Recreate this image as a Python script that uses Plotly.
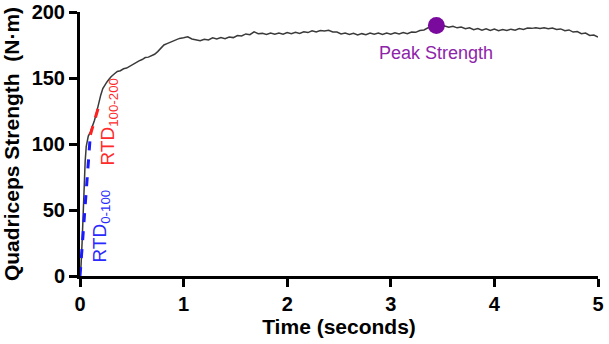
import plotly.graph_objects as go

# Time (s) and quadriceps torque (N·m)
time_s = [
    0.00, 0.01, 0.02, 0.03, 0.04, 0.05, 0.06, 0.07, 0.08, 0.10, 0.12, 0.14, 0.16, 0.18,
    0.20, 0.22, 0.24, 0.26, 0.28, 0.30, 0.33, 0.36, 0.39, 0.42, 0.45, 0.48, 0.51, 0.54,
    0.57, 0.60, 0.63, 0.66, 0.69, 0.72, 0.75, 0.78, 0.81, 0.84, 0.87, 0.90, 0.93, 0.96,
    1.00, 1.04, 1.08, 1.12, 1.16, 1.20, 1.24, 1.28, 1.32, 1.36, 1.40, 1.44, 1.48, 1.52,
    1.56, 1.60, 1.64, 1.68, 1.72, 1.76, 1.80, 1.84, 1.88, 1.92, 1.96, 2.00, 2.04, 2.08,
    2.12, 2.16, 2.20, 2.24, 2.28, 2.32, 2.36, 2.40, 2.44, 2.48, 2.52, 2.56, 2.60, 2.64,
    2.68, 2.72, 2.76, 2.80, 2.84, 2.88, 2.92, 2.96, 3.00, 3.04, 3.08, 3.12, 3.16, 3.20,
    3.24, 3.28, 3.32, 3.36, 3.40, 3.44, 3.48, 3.52, 3.56, 3.60, 3.64, 3.68, 3.72, 3.76,
    3.80, 3.84, 3.88, 3.92, 3.96, 4.00, 4.04, 4.08, 4.12, 4.16, 4.20, 4.24, 4.28, 4.32,
    4.36, 4.40, 4.44, 4.48, 4.52, 4.56, 4.60, 4.64, 4.68, 4.72, 4.76, 4.80, 4.84, 4.88,
    4.92, 4.96, 5.00,
]
torque = [
    0, 8, 25, 48, 70, 87, 98, 103, 106, 109, 113, 118, 124, 131,
    137, 142, 145, 147, 149, 151, 153, 155, 155.5, 157, 157.5, 159, 160, 161.5,
    163, 164, 165.5, 165.8, 167, 168, 170, 172.5, 175, 176, 177, 178, 179, 180,
    180.5, 181.2, 179.6, 179.0, 178.2, 179.4, 178.8, 180.4, 179.6, 180.6, 179.8, 181.0, 180.6, 182.2,
    181.8, 183.4, 182.8, 185.0, 183.6, 183.8, 183.0, 184.0, 183.2, 184.0, 183.2, 184.4, 183.6, 184.6,
    183.8, 185.0, 184.4, 185.8, 184.8, 186.0, 185.6, 186.2, 184.8, 184.8, 183.4, 184.0, 183.0, 183.8,
    182.6, 183.6, 182.8, 184.0, 183.2, 184.0, 183.0, 184.0, 183.2, 184.2, 183.4, 184.4, 183.6, 184.8,
    184.6, 186.0, 186.4, 188.0, 188.6, 189.8, 189.2, 189.4, 188.4, 189.2, 188.0, 188.6, 187.4, 188.0,
    186.6, 187.4, 186.2, 187.2, 186.0, 187.0, 185.8, 186.8, 186.0, 187.0, 186.2, 187.4, 186.8, 187.8,
    187.6, 188.0, 187.6, 188.0, 187.4, 187.8, 186.8, 187.2, 185.8, 186.4, 184.8, 185.2, 183.6, 184.0,
    182.2, 182.6, 181.0,
]

# Rate of torque development segments
rtd_0_100_t = [0.0, 0.10]
rtd_0_100_v = [0, 107]
rtd_100_200_t = [0.10, 0.19]
rtd_100_200_v = [107, 131]

# Peak strength point
peak_idx = max(range(len(torque)), key=lambda i: torque[i])
peak_t = [time_s[peak_idx]]
peak_v = [torque[peak_idx]]

x_ticks = [0, 1, 2, 3, 4, 5]
y_ticks = [0, 50, 100, 150, 200]

FONT = "Arial, Liberation Sans, sans-serif"

fig = go.Figure()
fig.add_trace(go.Scatter(x=time_s, y=torque, mode="lines",
                         line=dict(color="#3a3a3a", width=1.5), showlegend=False))
fig.add_trace(go.Scatter(x=rtd_0_100_t, y=rtd_0_100_v, mode="lines",
                         line=dict(color="#1a1aff", width=3, dash="dash"), showlegend=False))
fig.add_trace(go.Scatter(x=rtd_100_200_t, y=rtd_100_200_v, mode="lines",
                         line=dict(color="#ff2020", width=3, dash="dash"), showlegend=False))
fig.add_trace(go.Scatter(x=peak_t, y=peak_v, mode="markers",
                         marker=dict(color="#7a0a9e", size=17), showlegend=False,
                         cliponaxis=False))

fig.add_annotation(x=0.2, y=38, text="RTD<sub>0-100</sub>", textangle=-90, showarrow=False,
                   font=dict(family=FONT, size=19, color="#2a2aff"))
fig.add_annotation(x=0.28, y=117, text="RTD<sub>100-200</sub>", textangle=-90, showarrow=False,
                   font=dict(family=FONT, size=19, color="#ff2a2a"))
fig.add_annotation(x=peak_t[0], y=169, text="Peak Strength", showarrow=False,
                   font=dict(family=FONT, size=18, color="#8e24aa"))

axis_common = dict(showline=True, linewidth=3, linecolor="black", ticks="outside",
                   ticklen=8, tickwidth=3, tickcolor="black", showgrid=False, zeroline=False,
                   automargin=False,
                   tickfont=dict(family=FONT, size=20, color="black", weight="bold"))

fig.update_xaxes(range=[0, 5], tickvals=x_ticks,
                 title=dict(text="Time (seconds)", standoff=6,
                            font=dict(family=FONT, size=21, color="black", weight="bold")),
                 **axis_common)
fig.update_yaxes(range=[0, 200], tickvals=y_ticks,
                 title=dict(text="Quadriceps Strength  (N·m)", standoff=8,
                            font=dict(family=FONT, size=21, color="black", weight="bold")),
                 **axis_common)

fig.update_layout(width=609, height=344, margin=dict(l=80, r=11, t=12, b=68),
                  plot_bgcolor="white", paper_bgcolor="white")

fig.write_html("out.html")
